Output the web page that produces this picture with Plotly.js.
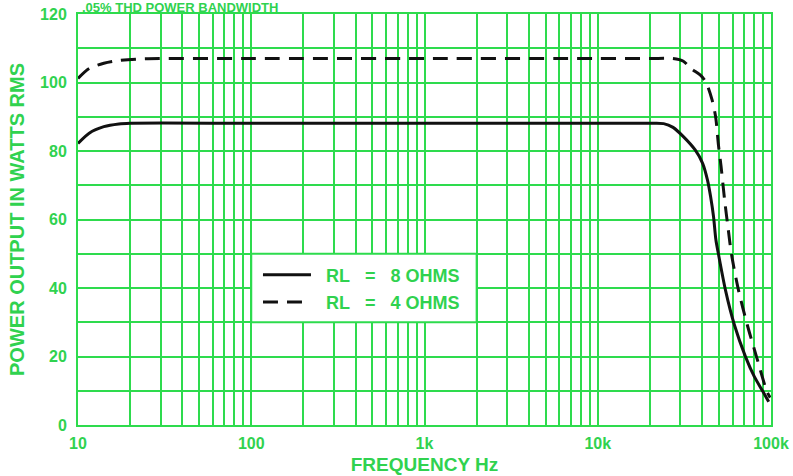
<!DOCTYPE html>
<html>
<head>
<meta charset="utf-8">
<script src="https://cdn.plot.ly/plotly-3.0.1.min.js"></script>
<style>html,body{margin:0;padding:0;background:#fff;}#chart{width:793px;height:476px;}</style>
</head>
<body>
<div id="chart"></div>
<script>
// Frequency (Hz) and power (W RMS)
const freq8 = [10, 11.6, 14.1, 17.2, 20, 100, 1000, 10000, 20000, 24000, 27200, 31200, 36500, 40300, 43000, 44800, 46600, 48100, 49700, 54600, 61500, 71300, 80000, 90000, 97000];
const watts8 = [82.2, 85.2, 87.1, 87.9, 88.1, 88.1, 88.1, 88.1, 88.1, 88.0, 86.9, 84.2, 80.3, 76.4, 71.5, 66.7, 60.8, 54, 50, 39.4, 29.2, 19.9, 14.2, 9.7, 6.8];

const freq4 = [10, 11.6, 14.1, 17.2, 23.5, 100, 1000, 10000, 20000, 27100, 31200, 34700, 39000, 42000, 45700, 47900, 49800, 51500, 53900, 56700, 59100, 64900, 73000, 82500, 94900, 99000];
const watts4 = [101.2, 104.1, 105.6, 106.4, 106.9, 107, 107, 107, 107, 107, 106.2, 104, 102.2, 100.2, 94.9, 90, 81.5, 75.5, 66, 57, 50, 39.4, 29.2, 19.9, 9.7, 8];

const seriesNames = ["\u00a0\u00a0RL\u00a0\u00a0\u00a0=\u00a0\u00a0\u00a08 OHMS", "\u00a0\u00a0RL\u00a0\u00a0\u00a0=\u00a0\u00a0\u00a04 OHMS"];

const xTickVals = [10,20,30,40,50,60,70,80,90,100,200,300,400,500,600,700,800,900,1000,2000,3000,4000,5000,6000,7000,8000,9000,10000,20000,30000,40000,50000,60000,70000,80000,90000,100000];
const xTickText = ["10","","","","","","","","","100","","","","","","","","","1k","","","","","","","","","10k","","","","","","","","","100k"];
const yTickVals = [0,10,20,30,40,50,60,70,80,90,100,110,120];
const yTickText = ["0","","20","","40","","60","","80","","100","","120"];

const chartTitle = ".05% THD POWER BANDWIDTH";
const xTitle = "FREQUENCY Hz";
const yTitle = "POWER OUTPUT IN WATTS RMS";

const GREEN = "#2edb4d";
const TXT = "#30d24f";
const FONT = "Liberation Sans, Arial, Helvetica, sans-serif";

const traces = [
  {x: freq8, y: watts8, name: seriesNames[0], legendgroup: "a", type: "scatter", mode: "lines",
   line: {color: "#111111", width: 3, shape: "spline", smoothing: 0.8}},
  {x: freq4, y: watts4, name: seriesNames[1], legendgroup: "b", type: "scatter", mode: "lines",
   line: {color: "#111111", width: 3, dash: "15px,9px", shape: "spline", smoothing: 0.8}}
];

const axisCommon = {
  showgrid: true, gridcolor: GREEN, gridwidth: 2,
  showline: true, mirror: true, linecolor: GREEN, linewidth: 2,
  zeroline: false, ticks: "",
  tickfont: {family: FONT, size: 16, color: TXT, weight: "bold"}
};

const layout = {
  width: 793, height: 476,
  margin: {l: 78, r: 22, t: 14, b: 51},
  paper_bgcolor: "#ffffff", plot_bgcolor: "#ffffff",
  showlegend: true,
  legend: {x: 0.2597, y: 0.41, xanchor: "left", yanchor: "top", bgcolor: "rgba(0,0,0,0)",
    font: {family: FONT, size: 18, color: TXT, weight: "bold"}, itemwidth: 48,
    traceorder: "grouped", tracegroupgap: 1},
  xaxis: Object.assign({}, axisCommon, {
    type: "log", range: [1, 5], tickmode: "array", tickvals: xTickVals, ticktext: xTickText,
    ticklabelstandoff: 3,
    title: {text: xTitle, font: {family: FONT, size: 19, color: TXT, weight: "bold"}, standoff: 6}
  }),
  yaxis: Object.assign({}, axisCommon, {
    range: [0, 120], tickmode: "array", tickvals: yTickVals, ticktext: yTickText,
    ticklabelstandoff: 6,
    title: {text: yTitle, font: {family: FONT, size: 20, color: TXT, weight: "bold"}, standoff: 10}
  }),
  shapes: [
    {type: "rect", xref: "x", yref: "y", x0: 100, x1: 2000, y0: 30, y1: 50,
     fillcolor: "#ffffff", line: {color: GREEN, width: 2}, layer: "between"}
  ],
  annotations: [
    {text: chartTitle, xref: "paper", yref: "paper", x: 0.003, y: 1, xanchor: "left", yanchor: "middle",
     yshift: 7, showarrow: false, font: {family: FONT, size: 13, color: TXT, weight: "bold"}}
  ]
};

Plotly.newPlot("chart", traces, layout, {displayModeBar: false, staticPlot: true});
</script>
</body>
</html>
